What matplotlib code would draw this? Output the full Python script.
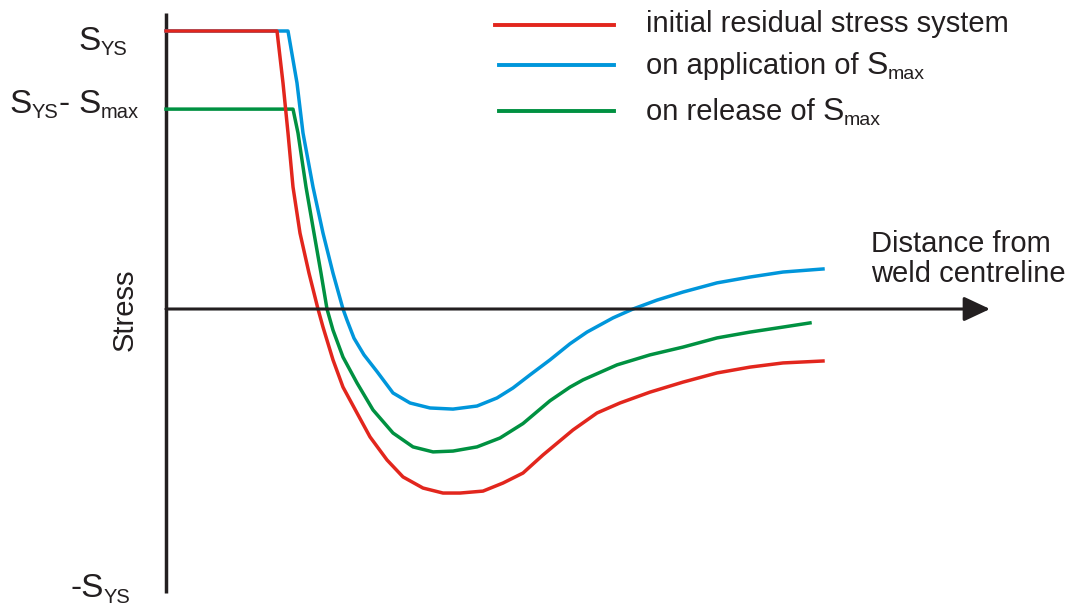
import matplotlib
matplotlib.use("Agg")
import matplotlib.pyplot as plt
from matplotlib.transforms import IdentityTransform

plt.rcParams['font.family'] = ['Liberation Sans', 'DejaVu Sans']

# distance from weld centreline (arbitrary units) and stress / S_YS
red_x = [0, 1.11, 1.17, 1.22, 1.27, 1.34, 1.43, 1.52, 1.57, 1.67, 1.77, 1.91, 2.04, 2.21,
         2.37, 2.57, 2.77, 2.94, 3.17, 3.37, 3.57, 3.77, 4.07, 4.31, 4.54, 4.84, 5.17, 5.51,
         5.84, 6.17, 6.57]
red_y = [1.0, 1.0, 0.813, 0.633, 0.439, 0.273, 0.129, 0.0, -0.065, -0.183, -0.281, -0.374,
         -0.460, -0.543, -0.604, -0.644, -0.662, -0.662, -0.655, -0.626, -0.590, -0.525,
         -0.435, -0.374, -0.338, -0.299, -0.263, -0.230, -0.209, -0.194, -0.187]

blue_x = [0, 1.22, 1.31, 1.37, 1.47, 1.57, 1.67, 1.77, 1.81, 1.88, 1.98, 2.11, 2.27, 2.44,
          2.64, 2.87, 3.11, 3.31, 3.47, 3.64, 3.84, 4.04, 4.21, 4.47, 4.67, 4.91, 5.17, 5.51,
          5.84, 6.17, 6.57]
blue_y = [1.0, 1.0, 0.813, 0.633, 0.439, 0.273, 0.129, 0.0, -0.040, -0.105, -0.165, -0.225,
          -0.302, -0.338, -0.356, -0.360, -0.349, -0.320, -0.284, -0.237, -0.183, -0.125,
          -0.083, -0.032, 0.0, 0.032, 0.061, 0.094, 0.115, 0.133, 0.144]

green_x = [0, 1.27, 1.32, 1.40, 1.48, 1.55, 1.61, 1.67, 1.77, 1.91, 2.07, 2.27, 2.47, 2.67,
           2.87, 3.11, 3.34, 3.57, 3.84, 4.04, 4.17, 4.51, 4.84, 5.17, 5.51, 5.84, 6.17, 6.44]
green_y = [0.719, 0.719, 0.633, 0.439, 0.273, 0.129, 0.0, -0.076, -0.173, -0.266, -0.363,
           -0.446, -0.496, -0.514, -0.511, -0.496, -0.464, -0.412, -0.330, -0.281, -0.255,
           -0.201, -0.165, -0.137, -0.104, -0.083, -0.065, -0.050]

labels = ["initial residual stress system", "on application of", "on release of"]
colors = ["#E2261D", "#0096DB", "#009141"]
ink = "#231F20"

fig = plt.figure(figsize=(10.73, 6.08), dpi=100)
ax = fig.add_axes([0, 0, 1, 1])
ax.set_xlim(-1.66, 9.07)
ax.set_ylim(-1.0755, 1.1115)
ax.axis("off")

# axes drawn by hand
ax.plot([0, 0], [-1.022, 1.065], color=ink, lw=2.5, solid_capstyle="butt")
ax.annotate("", xy=(8.24, 0), xytext=(0, 0),
            arrowprops=dict(arrowstyle="-|>,head_length=16,head_width=7.5",
                            mutation_scale=1, color=ink, lw=2.2,
                            shrinkA=0, shrinkB=0))

ax.plot(blue_x, blue_y, color=colors[1], lw=2.5)
ax.plot(green_x, green_y, color=colors[2], lw=2.5)
ax.plot(red_x, red_y, color=colors[0], lw=2.5)

renderer = fig.canvas.get_renderer()


def rich(x, y, pieces):
    # pieces: (text, size, drop in px, gap after in px); x, y in image pixels
    H = fig.bbox.height
    for s, size, dy, gap in pieces:
        t = fig.text(x, H - y - dy, s, fontsize=size, color=ink, va="baseline",
                     transform=IdentityTransform())
        x = t.get_window_extent(renderer).x1 + gap


# legend by hand
leg_y = [0.959, 0.893, 0.817]
for i in range(3):
    x0 = 0.461 if i == 0 else 0.465
    fig.lines.append(plt.Line2D([x0, 0.572], [leg_y[i], leg_y[i]], color=colors[i],
                                lw=2.8, transform=fig.transFigure))
rich(646, 32, [(labels[0], 21, 0, 0)])
rich(646, 74, [(labels[1], 21, 0, 8), ("S", 23, 0, 0), ("max", 14, 5, 0)])
rich(646, 120, [(labels[2], 21, 0, 8), ("S", 23, 0, 0), ("max", 14, 5, 0)])

rich(78, 50, [("S", 24, 0, 0), ("YS", 14.5, 5, 0)])
rich(9, 113, [("S", 24, 0, 0), ("YS", 14.5, 5, 0), ("-", 24, 0, 9), ("S", 24, 0, 0),
              ("max", 14.5, 5, 0)])
rich(70, 597, [("-S", 24, 0, 0), ("YS", 14.5, 6, 0)])

fig.text(0.1165, 1 - 310 / 608, "Stress", fontsize=21, color=ink, rotation=90,
         ha="center", va="center")
fig.text(0.812, 1 - 252 / 608, "Distance from", fontsize=21, color=ink, va="baseline")
fig.text(0.812, 1 - 282 / 608, "weld centreline", fontsize=21, color=ink, va="baseline")

fig.savefig("out.png", dpi=100)
